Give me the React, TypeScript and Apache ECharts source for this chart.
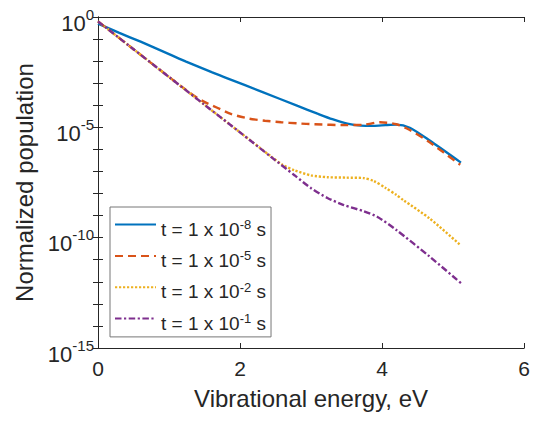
import React, { useEffect, useRef } from 'react';
import * as echarts from 'echarts';

const seriesNames = ['t = 1 x 10^-8 s', 't = 1 x 10^-5 s', 't = 1 x 10^-2 s', 't = 1 x 10^-1 s'];
const timeExponents = ['-8', '-5', '-2', '-1'];
const seriesColors = ['#0072BD', '#D95319', '#EDB120', '#7E2F8E'];

const xTicks = [0, 2, 4, 6];
const yMajorExponents = [0, -5, -10, -15];

const blueX = [0, 0.3, 0.6, 1.0, 1.24, 1.6, 1.84, 2.3, 2.81, 3.09, 3.3, 3.51, 3.7, 3.88, 4.05, 4.2, 4.39, 4.67, 5.11];
const blueY = [0.501, 0.191, 0.0759, 0.0209, 0.00955, 0.00316, 0.00158, 4.17e-4, 9.33e-5, 4.17e-5, 2.34e-5, 1.48e-5, 1.2e-5, 1.17e-5, 1.26e-5, 1.32e-5, 9.55e-6, 2.51e-6, 2.51e-7];

const orangeX = [0, 0.5, 1.0, 1.3, 1.47, 1.67, 1.88, 2.12, 2.35, 2.58, 2.81, 3.05, 3.5, 3.75, 3.97, 4.2, 4.39, 4.67, 5.1];
const orangeY = [0.631, 0.0347, 0.00191, 3.55e-4, 1.58e-4, 7.94e-5, 3.98e-5, 2.51e-5, 2.0e-5, 1.7e-5, 1.51e-5, 1.38e-5, 1.26e-5, 1.32e-5, 1.7e-5, 1.38e-5, 7.59e-6, 2.09e-6, 2.0e-7];

const yellowX = [0, 0.5, 1.0, 1.5, 2.0, 2.44, 2.6, 2.77, 3.0, 3.23, 3.5, 3.74, 3.88, 4.05, 4.2, 4.3, 4.67, 5.09];
const yellowY = [0.631, 0.0347, 0.00191, 1.05e-4, 5.89e-6, 4.68e-7, 2.0e-7, 1.12e-7, 6.61e-8, 5.5e-8, 5.25e-8, 5.01e-8, 3.72e-8, 1.78e-8, 8.71e-9, 5.01e-9, 7.41e-10, 5.01e-11];

const purpleX = [0, 0.5, 1.0, 1.5, 2.0, 2.44, 2.77, 3.0, 3.23, 3.46, 3.74, 3.93, 4.2, 4.67, 5.11];
const purpleY = [0.631, 0.0347, 0.00191, 1.05e-4, 5.89e-6, 4.47e-7, 6.61e-8, 1.74e-8, 6.31e-9, 3.02e-9, 1.58e-9, 8.91e-10, 2.24e-10, 1.38e-11, 8.71e-13];

const FONT = "'Liberation Sans', Arial, sans-serif";
const INK = '#262626';

function pairs(xs: number[], ys: number[]) {
  return xs.map((x, i) => [x, ys[i]]);
}

export default function App() {
  const ref = useRef<HTMLDivElement>(null);
  useEffect(() => {
    const chart = echarts.init(ref.current!, null, { renderer: 'svg' });
    const dashTypes: any[] = ['solid', [8, 5], [2.2, 1.8], [6.5, 2.5, 2.2, 2.5]];
    const datasets = [pairs(blueX, blueY), pairs(orangeX, orangeY), pairs(yellowX, yellowY), pairs(purpleX, purpleY)];
    const option: any = {
      animation: false,
      backgroundColor: '#fff',
      textStyle: { fontFamily: FONT },
      grid: { left: 98, right: 4, top: 14, bottom: 73, containLabel: false },
      legend: {
        orient: 'vertical',
        left: 110,
        top: 207,
        data: seriesNames,
        itemWidth: 41,
        itemHeight: 14,
        itemGap: 3.3,
        padding: [3.6, 5, 4.4, 4],
        backgroundColor: '#fff',
        borderColor: '#777',
        borderWidth: 1,
        borderRadius: 0,
        itemStyle: { opacity: 0, borderWidth: 0 },
        formatter: (name: string) => {
          const i = seriesNames.indexOf(name);
          return `{a|t = 1 x 10}{s|${timeExponents[i]}}{a| s}`;
        },
        textStyle: {
          color: INK,
          fontFamily: FONT,
          fontSize: 19,
          rich: {
            a: { fontSize: 19, lineHeight: 19, padding: [9, 0, 0, 0], color: INK, fontFamily: FONT },
            s: { fontSize: 13, lineHeight: 13, color: INK, fontFamily: FONT },
          },
        },
      },
      xAxis: [
        {
          type: 'value',
          min: 0,
          max: 6,
          interval: 2,
          name: 'Vibrational energy, eV',
          nameLocation: 'middle',
          nameGap: 38,
          nameTextStyle: { fontSize: 24, color: INK, fontFamily: FONT },
          axisLine: { show: true, lineStyle: { color: INK, width: 1 } },
          axisTick: { show: true, inside: true, length: 5, lineStyle: { color: INK } },
          splitLine: { show: false },
          axisLabel: {
            fontSize: 21,
            color: INK,
            margin: 10,
            fontFamily: FONT,
            formatter: (v: number) => (xTicks.includes(v) ? String(v) : ''),
          },
        },
        {
          type: 'value',
          position: 'top',
          min: 0,
          max: 6,
          interval: 2,
          axisLine: { show: true, lineStyle: { color: INK, width: 1 } },
          axisTick: { show: true, inside: true, length: 5, lineStyle: { color: INK } },
          splitLine: { show: false },
          axisLabel: { show: false },
        },
      ],
      yAxis: [
        {
          type: 'log',
          logBase: 10,
          min: 1e-15,
          max: 1,
          interval: 1,
          name: 'Normalized population',
          nameLocation: 'middle',
          nameGap: 62,
          nameTextStyle: { fontSize: 24, color: INK, fontFamily: FONT },
          axisLine: { show: true, lineStyle: { color: INK, width: 1 } },
          axisTick: { show: true, inside: true, length: 5, interval: 0, lineStyle: { color: INK } },
          splitLine: { show: false },
          axisLabel: {
            margin: 4,
            color: INK,
            fontFamily: FONT,
            formatter: (v: number) => {
              const e = Math.round(Math.log10(v));
              if (!yMajorExponents.includes(e)) return '';
              return `{b|10}{s|${e}}`;
            },
            rich: {
              b: { fontSize: 22, lineHeight: 22, padding: [12, 0, 0, 0], color: INK, fontFamily: FONT },
              s: { fontSize: 15, lineHeight: 15, padding: [0, 0, 6, 0], color: INK, fontFamily: FONT },
            },
          },
        },
        {
          type: 'log',
          logBase: 10,
          position: 'right',
          min: 1e-15,
          max: 1,
          interval: 1,
          axisLine: { show: true, lineStyle: { color: INK, width: 1 } },
          axisTick: { show: true, inside: true, length: 5, interval: 0, lineStyle: { color: INK } },
          splitLine: { show: false },
          axisLabel: { show: false },
        },
      ],
      series: seriesNames.map((name, i) => ({
        name,
        type: 'line',
        xAxisIndex: 0,
        yAxisIndex: 0,
        data: datasets[i],
        showSymbol: false,
        symbol: 'none',
        smooth: 0.25,
        color: seriesColors[i],
        lineStyle: { color: seriesColors[i], width: 2.4, type: dashTypes[i], cap: 'butt' },
        z: 2 + i,
      })),
    };
    chart.setOption(option);
    return () => chart.dispose();
  }, []);
  return <div ref={ref} style={{ position: 'fixed', left: 0, top: 0, width: 533, height: 421 }} />;
}
